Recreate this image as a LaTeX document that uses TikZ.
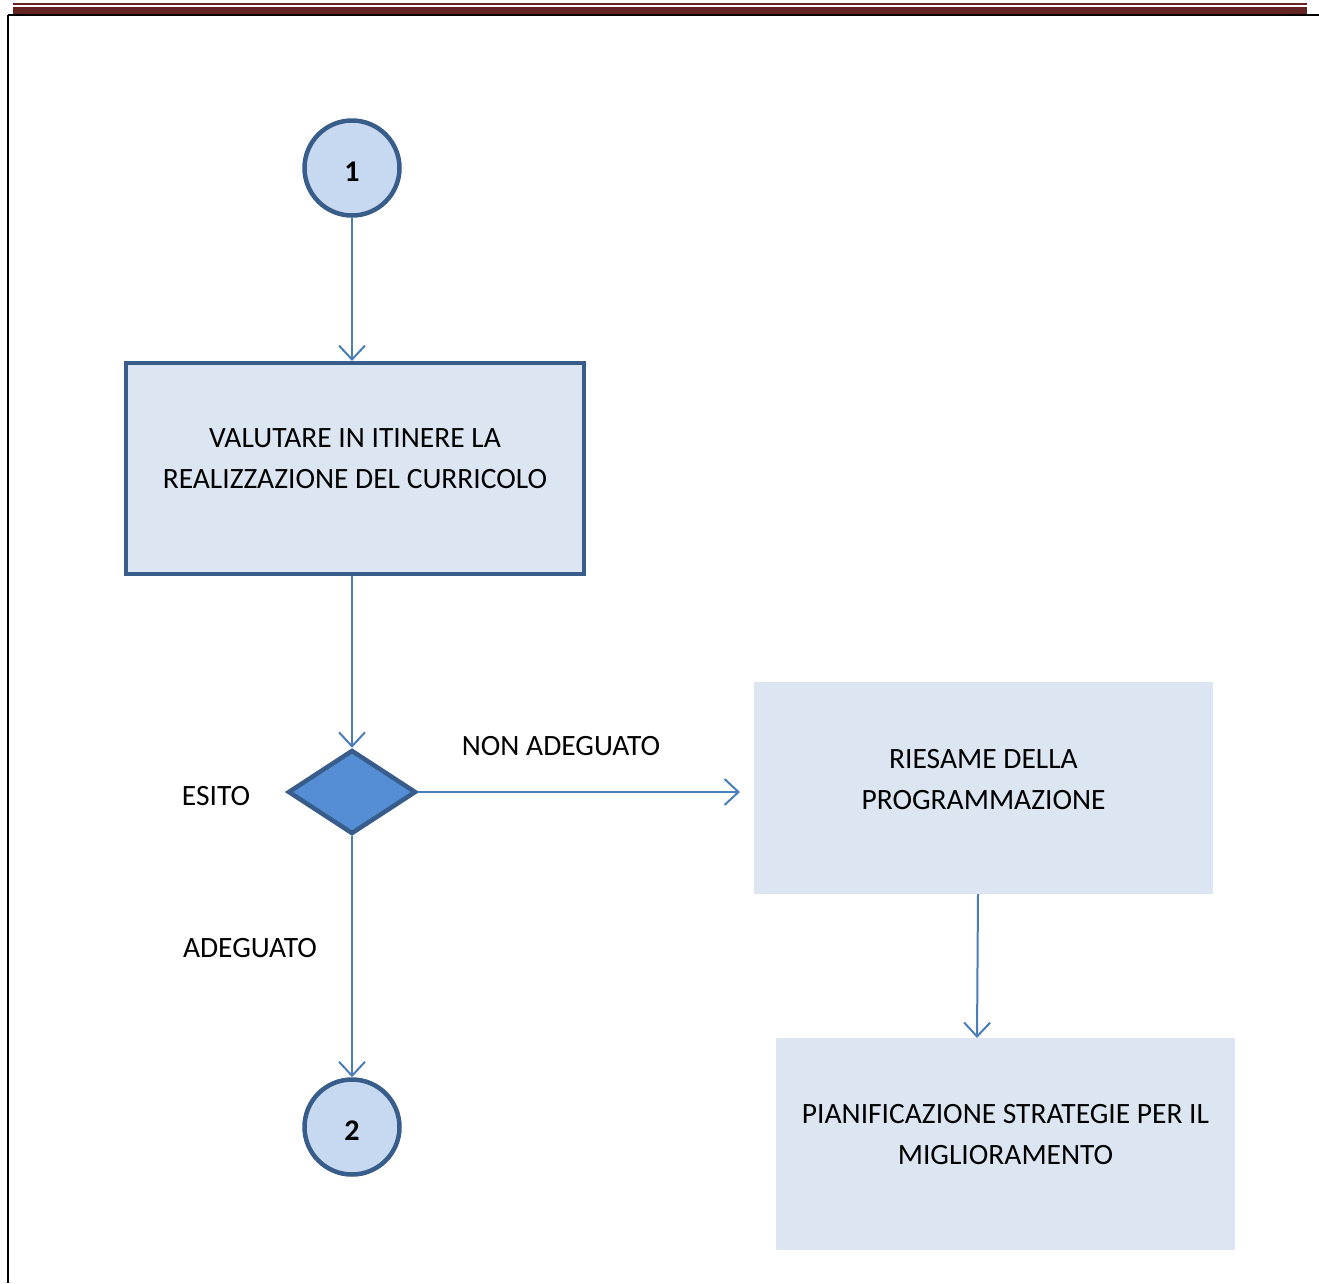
\documentclass[tikz,border=0pt]{standalone}
\usepackage{fontspec}
\setmainfont{Carlito}
\usetikzlibrary{shapes.geometric,arrows.meta}
\definecolor{maroon}{HTML}{632423}
\definecolor{edgeblue}{HTML}{385D8A}
\definecolor{arrowblue}{HTML}{4A7EBB}
\definecolor{lightfill}{HTML}{DCE6F2}
\definecolor{circfill}{HTML}{C6D9F1}
\definecolor{diafill}{HTML}{558ED5}
\tikzset{
  txt/.style={font=\fontsize{29.5}{41}\selectfont, align=center, text=black},
  numtxt/.style={font=\fontsize{30}{32}\selectfont\bfseries, text=black, yshift=-3.5pt},
  circnode/.style={circle, draw=edgeblue, line width=4.5pt, fill=circfill, minimum size=95pt, inner sep=0pt},
  mainbox/.style={draw=edgeblue, line width=4pt, fill=lightfill, minimum width=458pt, minimum height=211pt, inner sep=0pt},
  plainbox/.style={fill=lightfill, minimum width=459pt, minimum height=212pt, inner sep=0pt},
  decision/.style={diamond, draw=edgeblue, line width=4.5pt, fill=diafill, minimum width=128pt, minimum height=84pt, inner sep=0pt, aspect=1.5},
  conn/.style={draw=arrowblue, line width=2pt, -{Straight Barb[length=14pt,width=26pt,line width=2pt]}},
}
\begin{document}
\begin{tikzpicture}[x=1pt,y=-1pt]
\useasboundingbox (0,0) rectangle (1319,1283);
% header lines
\fill[maroon] (13,2.5) rectangle (1307,5);
\fill[maroon] (13,7) rectangle (1307,14);
\draw[black, line width=2.5pt] (8,15) -- (1319,15);
\draw[black, line width=2.5pt] (8,15) -- (8,1283);

\node[circnode, label={[numtxt]center:1}] (c1) at (352,168) {};
\node[mainbox, label={[txt, yshift=10pt]center:{VALUTARE IN ITINERE LA\\REALIZZAZIONE DEL CURRICOLO}}] (b1) at (355,468.5) {};
\node[decision] (d) at (352,792) {};
\node[plainbox, label={[txt, yshift=8.5pt]center:{RIESAME DELLA\\PROGRAMMAZIONE}}] (r) at (983.5,788) {};
\node[plainbox, label={[txt, yshift=9.5pt]center:{PIANIFICAZIONE STRATEGIE PER IL\\MIGLIORAMENTO}}] (p) at (1005.5,1144) {};
\node[circnode, label={[numtxt]center:2}] (c2) at (352,1127) {};

\node[txt] (lesito) at (216,796) {ESITO};
\node[txt] (lnon) at (561,746) {NON ADEGUATO};
\node[txt] (lade) at (250,948) {ADEGUATO};

\draw[conn] (c1.south) -- (b1.north -| c1.south);
\draw[conn] (b1.south -| d.north) -- (d.north);
\coordinate (hend) at (740,792);
\draw[conn] (d.east) -- (hend);
\draw[conn] (d.south) -- (c2.north);
\coordinate (rs) at (978,894);
\draw[conn] (rs) -- (977,1038);
\end{tikzpicture}
\end{document}
